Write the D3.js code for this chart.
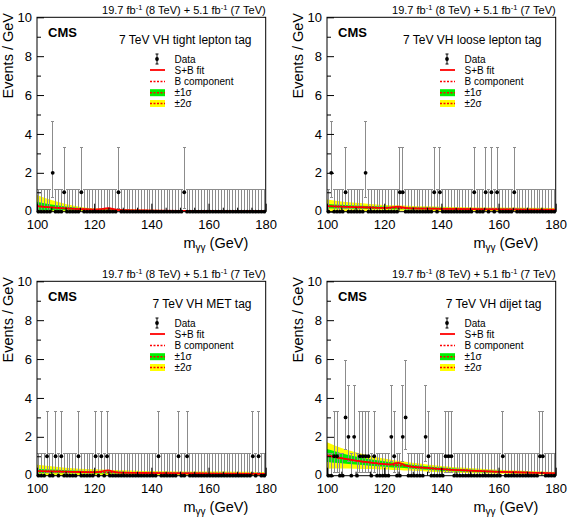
<!DOCTYPE html>
<html><head><meta charset="utf-8">
<script src="https://cdn.jsdelivr.net/npm/d3@7"></script>
<style>
body{margin:0;background:#fff}
svg{display:block}
text{font-family:"Liberation Sans",Arial,Helvetica,sans-serif;fill:#000}
</style>
</head><body>
<svg id="c" width="568" height="517"></svg>
<script>
// ---------- data ----------
const categories = ["7 TeV VH tight lepton tag", "7 TeV VH loose lepton tag", "7 TeV VH MET tag", "7 TeV VH dijet tag"];
const binCenters = [100.5,101.5,102.5,103.5,104.5,105.5,106.5,107.5,108.5,109.5,
  110.5,111.5,112.5,113.5,114.5,115.5,116.5,117.5,118.5,119.5,
  120.5,121.5,122.5,123.5,124.5,125.5,126.5,127.5,128.5,129.5,
  130.5,131.5,132.5,133.5,134.5,135.5,136.5,137.5,138.5,139.5,
  140.5,141.5,142.5,143.5,144.5,145.5,146.5,147.5,148.5,149.5,
  150.5,151.5,152.5,153.5,154.5,155.5,156.5,157.5,158.5,159.5,
  160.5,161.5,162.5,163.5,164.5,165.5,166.5,167.5,168.5,169.5,
  170.5,171.5,172.5,173.5,174.5,175.5,176.5,177.5,178.5,179.5];
const countsTight = [0,0,0,0,0,2,0,0,0,1, 0,0,0,0,0,1,0,0,0,0, 0,0,0,0,0,0,0,0,1,0, 0,0,0,0,0,0,0,0,0,0,
  0,0,0,0,0,0,0,0,0,0, 0,1,0,0,0,0,0,0,0,0, 0,0,0,0,0,0,0,0,0,0, 0,0,0,0,0,0,0,0,0,0];
const countsLoose = [0,2,0,0,0,0,1,0,0,0, 0,0,0,2,0,0,0,0,0,0, 0,0,0,0,0,1,1,0,0,0, 0,0,0,0,0,0,0,1,0,1,
  0,0,0,0,0,0,0,0,0,0, 0,1,0,0,0,1,0,1,0,1, 0,0,0,0,0,1,0,0,0,0, 0,0,0,0,0,0,0,0,0,0];
const countsMET = [0,0,0,1,0,0,1,0,1,0, 0,0,0,0,1,0,0,0,0,0, 1,0,1,0,1,0,0,0,0,0, 0,0,0,0,0,0,0,0,0,0,
  0,0,1,0,0,0,0,0,0,1, 0,0,1,0,0,0,0,0,0,0, 0,0,0,0,0,0,0,0,0,0, 0,0,0,0,0,1,0,1,0,0];
const countsDijet = [0,0,1,1,0,0,3,2,0,2, 0,1,1,1,1,0,1,0,0,0, 0,0,2,1,0,0,2,3,0,0, 0,0,0,0,2,1,0,0,0,0,
  0,1,1,1,0,0,0,0,0,0, 0,0,0,0,0,0,0,0,0,0, 0,1,0,0,0,0,0,0,0,0, 0,0,0,0,1,1,0,0,0,0];
// Poisson (Garwood) interval bounds per observed count 0,1,2,3
const poissonLow  = [0, 0.173, 0.708, 1.367];
const poissonHigh = [1.148, 3.300, 4.638, 5.918];

const fitMass = [100,105,110,115,120,122,124,125,126,128,130,135,140,150,160,170,180];
const bkgTight = [0.29,0.22,0.17,0.135,0.11,0.10,0.095,0.092,0.09,0.085,0.08,0.068,0.058,0.045,0.035,0.028,0.022];
const sbTight  = [0.29,0.22,0.17,0.135,0.11,0.13,0.17,0.18,0.16,0.10,0.08,0.068,0.058,0.045,0.035,0.028,0.022];
const s1Tight  = [0.22,0.15,0.10,0.06,0.035,0.032,0.031,0.03,0.03,0.029,0.028,0.025,0.023,0.019,0.016,0.014,0.012];
const s2Tight  = [0.57,0.38,0.23,0.125,0.065,0.06,0.058,0.057,0.056,0.054,0.052,0.047,0.043,0.036,0.03,0.026,0.022];

const bkgLoose = [0.29,0.26,0.235,0.215,0.2,0.193,0.187,0.184,0.181,0.176,0.17,0.16,0.15,0.13,0.12,0.11,0.1];
const sbLoose  = [0.29,0.26,0.235,0.215,0.2,0.21,0.25,0.26,0.23,0.185,0.17,0.16,0.15,0.13,0.12,0.11,0.1];
const s1Loose  = [0.11,0.095,0.08,0.072,0.065,0.063,0.061,0.06,0.06,0.058,0.055,0.052,0.05,0.046,0.043,0.042,0.04];
const s2Loose  = [0.34,0.27,0.22,0.18,0.15,0.145,0.14,0.138,0.135,0.13,0.125,0.118,0.11,0.1,0.095,0.09,0.09];

const bkgMET = [0.24,0.22,0.205,0.19,0.178,0.173,0.168,0.166,0.164,0.16,0.155,0.145,0.135,0.12,0.11,0.1,0.095];
const sbMET  = [0.24,0.22,0.205,0.19,0.178,0.2,0.26,0.27,0.24,0.175,0.155,0.145,0.135,0.12,0.11,0.1,0.095];
const s1MET  = [0.12,0.1,0.08,0.07,0.06,0.058,0.056,0.055,0.054,0.052,0.05,0.047,0.045,0.042,0.04,0.04,0.04];
const s2MET  = [0.32,0.26,0.21,0.17,0.15,0.145,0.14,0.137,0.135,0.13,0.12,0.115,0.11,0.1,0.1,0.1,0.1];

const bkgDijet = [1.04,0.9,0.78,0.68,0.6,0.57,0.54,0.53,0.52,0.49,0.46,0.4,0.34,0.26,0.2,0.16,0.12];
const sbDijet  = [1.04,0.9,0.78,0.68,0.6,0.58,0.64,0.66,0.62,0.5,0.46,0.4,0.34,0.26,0.2,0.16,0.12];
const s1Dijet  = [0.33,0.26,0.21,0.17,0.14,0.13,0.12,0.118,0.115,0.11,0.1,0.09,0.08,0.065,0.05,0.04,0.035];
const s2Dijet  = [0.68,0.53,0.42,0.34,0.28,0.26,0.245,0.24,0.235,0.22,0.2,0.18,0.16,0.13,0.1,0.08,0.07];

const xTicks = [100,120,140,160,180];
const xMinorTicks = [105,110,115,125,130,135,145,150,155,165,170,175];
const yTicks = [0,2,4,6,8,10];
const yMinorTicks = [1,3,5,7,9];
const legendLabels = ["Data","S+B fit","B component","\u00b11\u03c3","\u00b12\u03c3"];

const panels = [
  {title:categories[0], counts:countsTight, bkg:bkgTight, sb:sbTight, s1:s1Tight, s2:s2Tight},
  {title:categories[1], counts:countsLoose, bkg:bkgLoose, sb:sbLoose, s1:s1Loose, s2:s2Loose},
  {title:categories[2], counts:countsMET,   bkg:bkgMET,   sb:sbMET,   s1:s1MET,   s2:s2MET},
  {title:categories[3], counts:countsDijet, bkg:bkgDijet, sb:sbDijet, s1:s1Dijet, s2:s2Dijet}
];

// ---------- drawing ----------
const svg = d3.select("#c");
const RED = "#ff0000", GREEN = "#00f000", YELLOW = "#ffff00", ERR = "#8c8c8c";
const defs = svg.append("defs");
const snap = v => Math.round(v - 0.5) + 0.5;

panels.forEach((p, i) => {
  const ox = (i % 2) * 290, oy = Math.floor(i / 2) * 264;
  const L = ox + 37, R = ox + 265.7, T = oy + 17.3, B = oy + 211.7;
  const x = d3.scaleLinear().domain([100, 180]).range([L, R]);
  const y = d3.scaleLinear().domain([0, 10]).range([B, T]);
  const g = svg.append("g");

  defs.append("clipPath").attr("id", "clip" + i)
    .append("rect").attr("x", L).attr("y", T).attr("width", R - L).attr("height", B - T);
  const plot = g.append("g").attr("clip-path", `url(#clip${i})`);

  const pts = fitMass.map((m, j) => ({m, b: p.bkg[j], sb: p.sb[j], s1: p.s1[j], s2: p.s2[j]}));
  const band = k => d3.area().x(d => x(d.m)).y0(d => y(d.b - d[k])).y1(d => y(d.b + d[k])).curve(d3.curveMonotoneX);
  plot.append("path").datum(pts).attr("d", band("s2")).attr("fill", YELLOW);
  plot.append("path").datum(pts).attr("d", band("s1")).attr("fill", GREEN);

  // error bars
  const data = binCenters.map((c, j) => ({c, n: p.counts[j]}));
  const eb = plot.append("g").attr("stroke", ERR).attr("stroke-width", 1);
  data.forEach(d => {
    const xx = snap(x(d.c)), y0 = y(poissonLow[d.n]), y1 = snap(y(poissonHigh[d.n]));
    eb.append("line").attr("x1", xx).attr("x2", xx).attr("y1", y0).attr("y2", y1);
    eb.append("line").attr("x1", xx - 1.5).attr("x2", xx + 1.5).attr("y1", y1).attr("y2", y1);
    if (d.n > 0) eb.append("line").attr("x1", xx - 1.5).attr("x2", xx + 1.5).attr("y1", snap(y0)).attr("y2", snap(y0));
  });

  // fit lines
  const line = k => d3.line().x(d => x(d.m)).y(d => y(d[k])).curve(d3.curveMonotoneX);
  plot.append("path").datum(pts).attr("d", line("b")).attr("fill", "none")
    .attr("stroke", RED).attr("stroke-width", 1.5).attr("stroke-dasharray", "2,1.5");
  plot.append("path").datum(pts).attr("d", line("sb")).attr("fill", "none")
    .attr("stroke", RED).attr("stroke-width", 1.8);

  // frame
  g.append("rect").attr("x", L).attr("y", T).attr("width", R - L).attr("height", B - T)
    .attr("fill", "none").attr("stroke", "#000").attr("stroke-width", 1);

  // points
  g.append("g").selectAll("circle").data(data).join("circle")
    .attr("cx", d => x(d.c)).attr("cy", d => y(d.n)).attr("r", 1.9).attr("fill", "#000");

  // axes
  const ax = g.append("g").attr("transform", `translate(0,${B})`)
    .call(d3.axisBottom(x).tickValues(xTicks).tickSizeInner(-8).tickSizeOuter(0).tickPadding(8).tickFormat(d3.format("d")));
  ax.select(".domain").remove();
  ax.selectAll("text").attr("font-size", 13).attr("font-family", "Liberation Sans, Arial, sans-serif");
  const axm = g.append("g").attr("transform", `translate(0,${B})`)
    .call(d3.axisBottom(x).tickValues(xMinorTicks).tickSizeInner(-4).tickSizeOuter(0).tickFormat(""));
  axm.select(".domain").remove();

  const ay = g.append("g").attr("transform", `translate(${L},0)`)
    .call(d3.axisLeft(y).tickValues(yTicks).tickSizeInner(-7).tickSizeOuter(0).tickPadding(5).tickFormat(d3.format("d")));
  ay.select(".domain").remove();
  ay.selectAll("text").attr("font-size", 13).attr("font-family", "Liberation Sans, Arial, sans-serif");
  ay.selectAll(".tick text").filter(d => d === 0).attr("dy", "0.18em");
  const aym = g.append("g").attr("transform", `translate(${L},0)`)
    .call(d3.axisLeft(y).tickValues(yMinorTicks).tickSizeInner(-4).tickSizeOuter(0).tickFormat(""));
  aym.select(".domain").remove();
  g.selectAll(".tick line").attr("stroke", "#000");

  // axis titles
  g.append("text").attr("transform", `translate(${ox + 13},${oy + 13}) rotate(-90)`)
    .attr("text-anchor", "end").attr("font-size", 14.5).text("Events / GeV");
  const xt = g.append("text").attr("x", ox + 248.3).attr("y", oy + 248).attr("text-anchor", "end").attr("font-size", 14.5);
  xt.append("tspan").text("m");
  xt.append("tspan").attr("font-size", 10).attr("dy", 3).text("\u03b3\u03b3");
  xt.append("tspan").attr("dy", -3).text(" (GeV)");

  // header
  const h = g.append("text").attr("x", R).attr("y", oy + 14).attr("text-anchor", "end").attr("font-size", 11);
  h.append("tspan").text("19.7 fb");
  h.append("tspan").attr("font-size", 7.5).attr("dy", -4).text("-1");
  h.append("tspan").attr("dy", 4).text(" (8 TeV) + 5.1 fb");
  h.append("tspan").attr("font-size", 7.5).attr("dy", -4).text("-1");
  h.append("tspan").attr("dy", 4).text(" (7 TeV)");

  // CMS + category
  g.append("text").attr("x", ox + 48).attr("y", oy + 37).attr("font-size", 13).attr("font-weight", "bold").text("CMS");
  g.append("text").attr("x", ox + 251.5).attr("y", oy + 44.3).attr("text-anchor", "end").attr("font-size", 12).text(p.title);

  // legend
  const rows = [59, 70, 81.5, 92.7, 103.5];
  const lx0 = ox + 150, lx1 = ox + 165, lxc = ox + 157, ltx = ox + 174.5;
  const lg = g.append("g");
  rows.forEach((ry, k) => {
    lg.append("text").attr("x", ltx).attr("y", oy + ry + 3.6).attr("font-size", 10).text(legendLabels[k]);
  });
  let yy = oy + rows[0];
  lg.append("line").attr("x1", lxc).attr("x2", lxc).attr("y1", yy - 5).attr("y2", yy + 5).attr("stroke", "#000");
  lg.append("line").attr("x1", lxc - 1.5).attr("x2", lxc + 1.5).attr("y1", yy - 5).attr("y2", yy - 5).attr("stroke", "#000");
  lg.append("line").attr("x1", lxc - 1.5).attr("x2", lxc + 1.5).attr("y1", yy + 5).attr("y2", yy + 5).attr("stroke", "#000");
  lg.append("circle").attr("cx", lxc).attr("cy", yy).attr("r", 1.9).attr("fill", "#000");
  yy = oy + rows[1];
  lg.append("line").attr("x1", lx0).attr("x2", lx1).attr("y1", yy).attr("y2", yy).attr("stroke", RED).attr("stroke-width", 1.8);
  yy = oy + rows[2];
  lg.append("line").attr("x1", lx0).attr("x2", lx1).attr("y1", yy).attr("y2", yy).attr("stroke", RED).attr("stroke-width", 1.5).attr("stroke-dasharray", "2,1.5");
  [[rows[3], GREEN], [rows[4], YELLOW]].forEach(([ry, col]) => {
    const yc = oy + ry;
    lg.append("rect").attr("x", lx0).attr("y", yc - 3.5).attr("width", lx1 - lx0).attr("height", 7).attr("fill", col);
    lg.append("line").attr("x1", lx0).attr("x2", lx1).attr("y1", yc).attr("y2", yc).attr("stroke", RED).attr("stroke-width", 1.5).attr("stroke-dasharray", "2,1.5");
  });
});
</script>
</body></html>
